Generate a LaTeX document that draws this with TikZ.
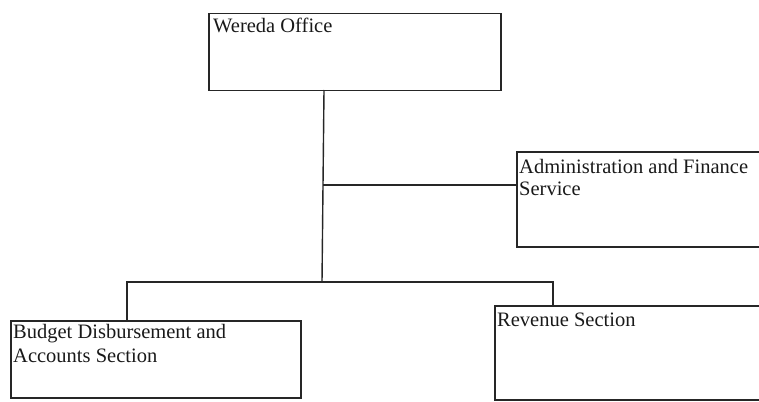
\documentclass[tikz,border=0pt]{standalone}
\usepackage{fontspec}
\setmainfont{Liberation Serif}
\begin{document}
\begin{tikzpicture}[x=1pt,y=-1pt,
  box/.style={draw=black!85,line width=1.5pt,rectangle,inner sep=0pt,anchor=north west},
  lbl/.style={anchor=base west,inner sep=0pt,font=\fontsize{20.5}{24}\selectfont,text=black!90,align=left},
  conn/.style={draw=black!85,line width=1.4pt}]
\useasboundingbox (0,0) rectangle (759,401);
\clip (0,0) rectangle (759,401);
% boxes
\node[box,minimum width=292pt,minimum height=77pt] (wereda) at (208,13) {};
\node[box,minimum width=260pt,minimum height=95pt] (admin) at (516,151) {};
\node[box,minimum width=290pt,minimum height=77pt] (budget) at (10,320) {};
\node[box,minimum width=280pt,minimum height=94pt] (revenue) at (494,305) {};
% labels
\node[lbl] (tw) at (213,33) {Wereda Office};
\node[lbl] (ta1) at (519,173) {Administration and Finance};
\node[lbl] (ta2) at (519,195) {Service};
\node[lbl] (tb1) at (13,338) {Budget Disbursement and};
\node[lbl] (tb2) at (13,362) {Accounts Section};
\node[lbl] (tr) at (497,326) {Revenue Section};
% connectors
\coordinate (top) at (324,90);
\coordinate (mid) at (323,185);
\coordinate (trunk) at (322,282);
\coordinate (lb) at (127,282);
\coordinate (rb) at (553,282);
\draw[conn] (top) -- (mid) -- (trunk);
\draw[conn] (mid) -- (mid -| admin.west);
\draw[conn] (lb |- budget.north) -- (lb) -- (rb) -- (rb |- revenue.north);
\end{tikzpicture}
\end{document}
